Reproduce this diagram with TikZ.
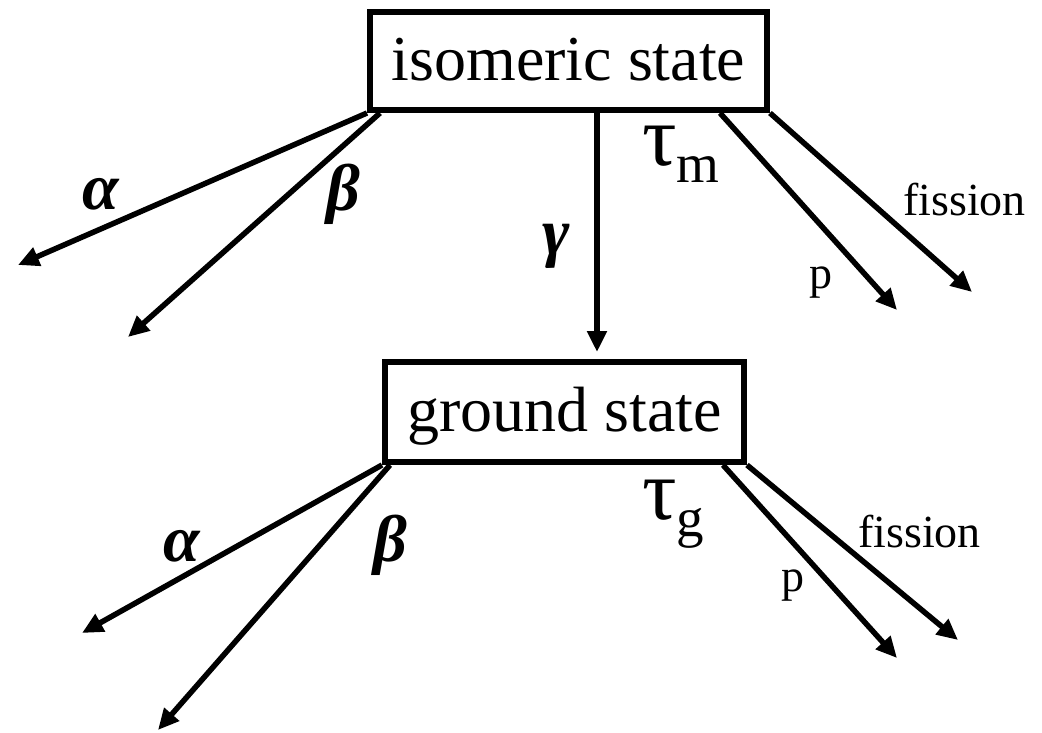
\documentclass[tikz,border=0pt]{standalone}
\usepackage{fontspec}
\setmainfont{Liberation Serif}
\usetikzlibrary{arrows.meta}
\begin{document}
\begin{tikzpicture}[x=1pt,y=-1pt,
  state/.style={draw,line width=6pt,inner sep=0pt,font=\fontsize{64}{70}\selectfont,text height=44pt,text depth=6pt},
  arr/.style={line width=5.5pt,-{Triangle[length=21pt,width=19pt]}},
  greek/.style={inner sep=0pt,font=\fontsize{66}{72}\selectfont\bfseries\itshape},
  small/.style={inner sep=0pt,font=\fontsize{46}{52}\selectfont,anchor=base west},
  taulab/.style={inner sep=0pt,font=\fontsize{86}{92}\selectfont,anchor=base west}]
\useasboundingbox[fill=white] (0,0) rectangle (1042,732);
% boxes
\node[state,minimum width=397pt,minimum height=98pt] (top) at (568.5,61) {isomeric state};
\node[state,minimum width=359pt,minimum height=100pt] (bot) at (564.5,412) {ground state};
% free ends
\coordinate (ta) at (18,265);
\coordinate (tb) at (128,337);
\coordinate (tp) at (897,310);
\coordinate (tf) at (972,292);
\coordinate (ba) at (82,633);
\coordinate (bb) at (158,730);
\coordinate (bp) at (897,658);
\coordinate (bf) at (958,640);
% top arrows
\draw[arr] (top.south west) -- (ta);
\draw[arr] ([xshift=13pt]top.south west) -- (tb);
\draw[arr,shorten >=7pt] ([xshift=28.5pt]top.south) -- ([xshift=32.5pt]bot.north);
\draw[arr] ([xshift=-50pt]top.south east) -- (tp);
\draw[arr] (top.south east) -- (tf);
% bottom arrows
\draw[arr] (bot.south west) -- (ba);
\draw[arr] ([xshift=8pt]bot.south west) -- (bb);
\draw[arr] ([xshift=-24pt]bot.south east) -- (bp);
\draw[arr] (bot.south east) -- (bf);
% labels top
\node[greek] (la1) at (101,194) {α};
\node[greek] (lb1) at (343,194) {β};
\node[greek] (lg1) at (556,246) {γ};
\node[taulab] (lt1) at (642,165) {τ{\fontsize{55}{60}\selectfont\raisebox{-17pt}{m}}};
\node[small] (lp1) at (809,288) {p};
\node[small] (lf1) at (903,215) {fission};
% labels bottom
\node[greek] (la2) at (182,546) {α};
\node[greek] (lb2) at (390,545) {β};
\node[taulab] (lt2) at (642,519) {τ{\fontsize{55}{60}\selectfont\raisebox{-17pt}{g}}};
\node[small] (lp2) at (781,591) {p};
\node[small] (lf2) at (858,547) {fission};
\end{tikzpicture}
\end{document}
